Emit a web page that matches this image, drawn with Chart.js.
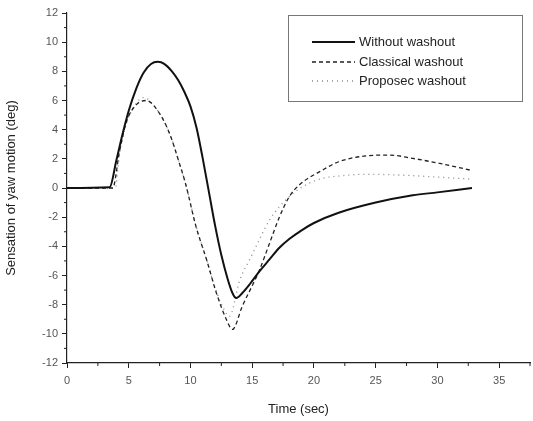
<!DOCTYPE html>
<html>
<head>
<meta charset="utf-8">
<script src="https://cdn.jsdelivr.net/npm/chart.js@4/dist/chart.umd.min.js"></script>
<style>
  html, body { margin: 0; padding: 0; background: #fff; }
  #wrap { width: 533px; height: 421px; }
</style>
</head>
<body>
<div id="wrap"><canvas id="yaw"></canvas></div>
<script>
/* ---------- data ---------- */
const seriesNames = ["Without washout", "Classical washout", "Proposec washout"];

const timeWithout = [0, 3.45, 4.0, 4.5, 5.0, 5.6, 6.2, 6.8, 7.35, 7.9, 8.5, 9.0, 9.5, 10.0, 10.5, 11.0, 11.5, 12.0, 12.5, 13.0, 13.4, 13.7, 14.2, 14.8, 15.6, 16.4, 17.2, 18, 19, 20, 22, 25, 28, 30, 32.8];
const yawWithout  = [0, 0.05, 1.9, 3.7, 5.3, 6.8, 7.9, 8.5, 8.65, 8.5, 8.0, 7.4, 6.6, 5.6, 4.1, 2.0, -0.3, -2.6, -4.6, -6.2, -7.2, -7.55, -7.2, -6.6, -5.7, -4.9, -4.1, -3.5, -2.9, -2.4, -1.7, -1.0, -0.5, -0.3, 0];

const timeClassical = [0, 3.7, 4.25, 4.8, 5.6, 6.4, 7.35, 8.3, 9.1, 9.6, 10.45, 11.3, 12.1, 12.9, 13.4, 14.2, 15.6, 16.4, 17.2, 18.0, 18.8, 20.7, 22, 24.2, 26.1, 28, 30.1, 32.8];
const yawClassical  = [0, 0, 2.5, 4.5, 5.7, 6.0, 5.3, 3.75, 1.7, 0.3, -2.65, -4.9, -7.2, -9.0, -9.7, -8.1, -5.6, -3.8, -2.0, -0.6, 0.2, 1.23, 1.8, 2.2, 2.26, 2.03, 1.7, 1.2];

const timeProposed = [0, 3.9, 4.25, 4.8, 5.6, 6.2, 7.35, 8.3, 9.1, 9.6, 10.45, 11.3, 12.1, 12.7, 13.15, 14.0, 14.8, 15.6, 16.4, 17.2, 18.3, 19.6, 20.7, 22, 24.2, 26.9, 29.6, 32.8];
const yawProposed  = [0, 0, 2.3, 4.4, 5.8, 6.2, 5.3, 3.75, 1.7, 0.3, -2.6, -4.9, -7.1, -8.3, -8.8, -6.3, -4.9, -3.5, -2.2, -1.3, -0.37, 0.32, 0.66, 0.82, 0.94, 0.89, 0.77, 0.6];

const xTicks = [0, 5, 10, 15, 20, 25, 30, 35];
const yTicks = [-12, -10, -8, -6, -4, -2, 0, 2, 4, 6, 8, 10, 12];

/* ---------- helpers ---------- */
const toPoints = (xs, ys) => xs.map((x, i) => ({ x: x, y: ys[i] }));

const lineStyles = [
    { color: "#111", width: 2, dash: [] },
    { color: "#222", width: 1.3, dash: [4, 3] },
    { color: "#888", width: 1.3, dash: [1, 4] }
];

/* minor ticks between the labelled ones */
const minorTicksPlugin = {
    id: "minorTicks",
    afterDraw(chart) {
        const { ctx, scales } = chart;
        const xs = scales.x, ys = scales.y;
        ctx.save();
        ctx.strokeStyle = "#222";
        ctx.lineWidth = 1;
        for (let i = 0; i < xTicks.length; i++) {
            const px = xs.getPixelForValue(xTicks[i] + 2.5);
            ctx.beginPath();
            ctx.moveTo(px, ys.bottom);
            ctx.lineTo(px, ys.bottom + 3);
            ctx.stroke();
        }
        for (let i = 0; i < yTicks.length - 1; i++) {
            const py = ys.getPixelForValue(yTicks[i] + 1);
            ctx.beginPath();
            ctx.moveTo(xs.left - 3, py);
            ctx.lineTo(xs.left, py);
            ctx.stroke();
        }
        ctx.restore();
    }
};

/* boxed legend inside the plot, top right */
const boxLegendPlugin = {
    id: "boxLegend",
    afterDraw(chart) {
        const { ctx } = chart;
        const bx = 288, by = 15, bw = 234, bh = 86;
        ctx.save();
        ctx.strokeStyle = "#777";
        ctx.lineWidth = 1;
        ctx.strokeRect(bx + 0.5, by + 0.5, bw, bh);
        ctx.font = "13px 'Liberation Sans', Arial, sans-serif";
        ctx.fillStyle = "#222";
        ctx.textBaseline = "middle";
        const rows = [42, 62, 81];
        seriesNames.forEach((name, i) => {
            const st = lineStyles[i];
            ctx.strokeStyle = st.color;
            ctx.lineWidth = st.width;
            ctx.setLineDash(st.dash);
            ctx.beginPath();
            ctx.moveTo(312, rows[i]);
            ctx.lineTo(355, rows[i]);
            ctx.stroke();
            ctx.setLineDash([]);
            ctx.fillText(name, 359, rows[i]);
        });
        ctx.restore();
    }
};

Chart.defaults.font.family = "'Liberation Sans', Arial, sans-serif";
Chart.defaults.color = "#333";

new Chart(document.getElementById("yaw"), {
    type: "line",
    data: {
        datasets: [
            { label: seriesNames[0], data: toPoints(timeWithout, yawWithout) },
            { label: seriesNames[1], data: toPoints(timeClassical, yawClassical) },
            { label: seriesNames[2], data: toPoints(timeProposed, yawProposed) }
        ].map((ds, i) => Object.assign(ds, {
            borderColor: lineStyles[i].color,
            borderWidth: lineStyles[i].width,
            borderDash: lineStyles[i].dash,
            pointRadius: 0,
            fill: false,
            cubicInterpolationMode: "monotone"
        }))
    },
    options: {
        responsive: true,
        maintainAspectRatio: false,
        animation: false,
        layout: { padding: { top: 13, right: 3, left: 0, bottom: 0 } },
        plugins: {
            legend: { display: false },
            tooltip: { enabled: false }
        },
        scales: {
            x: {
                type: "linear",
                min: 0,
                max: 37.5,
                afterBuildTicks: (s) => { s.ticks = xTicks.map(v => ({ value: v })); },
                afterFit: (s) => { s.height = 58; },
                grid: { drawOnChartArea: false, tickLength: 5, color: "#222" },
                border: { color: "#222", width: 1.2 },
                ticks: { font: { size: 11 }, color: "#555", padding: 6, maxRotation: 0 },
                title: { display: true, text: "Time (sec)", font: { size: 13 }, color: "#222", padding: { top: 6 } }
            },
            y: {
                min: -12,
                max: 12,
                afterBuildTicks: (s) => { s.ticks = yTicks.map(v => ({ value: v })); },
                afterFit: (s) => { s.width = 67; },
                grid: { drawOnChartArea: false, tickLength: 5, color: "#222" },
                border: { color: "#222", width: 1.2 },
                ticks: { font: { size: 11 }, color: "#555", padding: 4 },
                title: { display: true, text: "Sensation of yaw motion (deg)", font: { size: 13 }, color: "#222", padding: { bottom: 8 } }
            }
        }
    },
    plugins: [minorTicksPlugin, boxLegendPlugin]
});
</script>
</body>
</html>
